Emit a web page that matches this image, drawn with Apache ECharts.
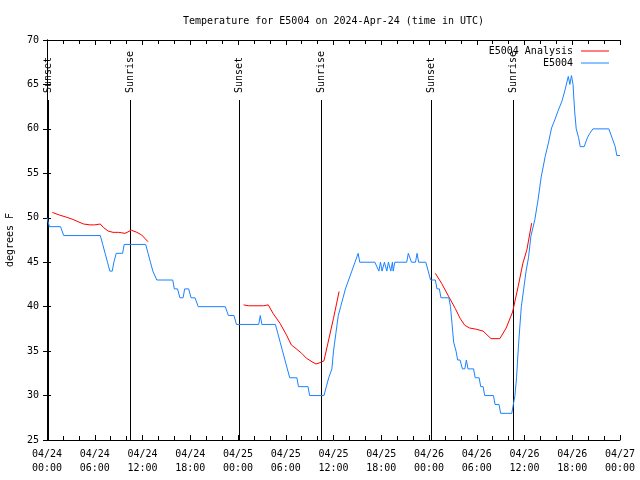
<!DOCTYPE html>
<html>
<head>
<meta charset="utf-8">
<script src="https://cdn.jsdelivr.net/npm/echarts@6/dist/echarts.min.js"></script>
<style>html,body{margin:0;padding:0;background:#fff;}#c{width:640px;height:480px;}</style>
</head>
<body>
<div id="c"></div>
<script>
// Hours since 2024-04-24 00:00 UTC
const xTickLabels = ['04/24\n00:00','04/24\n06:00','04/24\n12:00','04/24\n18:00','04/25\n00:00','04/25\n06:00','04/25\n12:00','04/25\n18:00','04/26\n00:00','04/26\n06:00','04/26\n12:00','04/26\n18:00','04/27\n00:00'];

const sunTimes = [0.1, 10.43, 24.13, 34.43, 48.25, 58.56];
const sunLabels = ['Sunset','Sunrise','Sunset','Sunrise','Sunset','Sunrise'];

const obsTime = [0.0,0.3,1.7,2.1,6.7,7.0,7.3,7.6,7.9,8.2,8.4,8.7,9.5,9.7,12.4,12.7,13.0,13.3,13.8,15.8,16.0,16.4,16.7,17.1,17.3,17.8,18.1,18.6,19.0,22.4,22.8,23.5,23.8,26.6,26.8,27.0,28.7,29.0,29.3,29.6,29.9,30.2,30.5,31.4,31.6,32.8,33.0,34.8,35.1,35.4,35.8,36.0,36.3,36.6,36.9,37.2,37.5,37.9,38.3,38.7,39.1,39.3,41.2,41.7,41.9,42.1,42.4,42.7,42.9,43.2,43.4,43.5,43.7,45.2,45.4,45.6,45.8,46.3,46.5,46.7,47.6,47.9,48.2,48.8,49.0,49.3,49.5,50.5,50.7,50.9,51.1,51.4,51.6,51.9,52.2,52.5,52.7,52.9,53.6,53.8,54.3,54.5,54.8,55.0,56.1,56.3,56.8,57.0,58.4,58.6,58.8,59.0,59.2,59.4,59.6,59.9,60.2,60.5,60.8,61.3,61.7,62.1,62.6,63.0,63.4,63.8,64.2,64.7,65.1,65.5,65.7,65.9,66.1,66.3,66.5,66.8,67.0,67.5,67.9,68.2,68.6,70.6,71.0,71.4,71.6,72.0];
const obsTemp = [50,49,49,48,48,47,46,45,44,44,45,46,46,47,47,46,45,44,43,43,42,42,41,41,42,42,41,41,40,40,39,39,38,38,39,38,38,37,36,35,34,33,32,32,31,31,30,30,31,32,33,35,37,39,40,41,42,43,44,45,46,45,45,44,45,44,45,44,45,44,45,44,45,45,46,46,45,45,46,45,45,44,43,43,42,42,41,41,40,38,36,35,34,34,33,33,34,33,33,32,32,31,31,30,30,29,29,28,28,29,30,32,35,37.6,40,42,44,45.5,47.9,49.8,52,54.6,56.9,58.4,60.1,61,62,63.1,64.4,65.9,65,66,65,62,60,59,58,58,59,59.5,60,60,59,58,57,57];

const anaTime1 = [0.67,1.6,2.5,3.3,3.9,4.6,5.4,6.0,6.7,7.1,7.7,8.3,9.0,9.8,10.6,11.3,11.9,12.7];
const anaTemp1 = [50.6,50.3,50.05,49.8,49.56,49.3,49.2,49.2,49.3,48.9,48.5,48.36,48.36,48.25,48.6,48.36,48.06,47.3];
const anaTime2 = [24.7,25.3,27.2,27.8,28.4,29.3,30.1,30.7,31.4,32.0,32.6,33.3,33.8,34.3,34.8,35.3,36.0,36.4,36.7];
const anaTemp2 = [40.2,40.1,40.1,40.2,39.25,38.1,36.8,35.7,35.2,34.75,34.2,33.8,33.55,33.7,33.9,35.9,38.7,40.4,41.7];
const anaTime3 = [48.8,49.6,50.5,51.3,51.9,52.5,53.1,54.0,54.8,55.8,56.9,57.7,58.5,59.2,59.8,60.3,60.9];
const anaTemp3 = [43.75,42.6,41.1,39.8,38.7,37.9,37.6,37.45,37.25,36.4,36.4,37.6,39.4,42.25,44.9,46.4,49.4];

function zip(a, b) { return a.map((v, i) => [v, b[i]]); }
const anaData = zip(anaTime1, anaTemp1).concat([[null, null]], zip(anaTime2, anaTemp2), [[null, null]], zip(anaTime3, anaTemp3));

const FONT = 'DejaVu Sans Mono';
const chart = echarts.init(document.getElementById('c'), null, {renderer: 'canvas'});

const xBase = {
  type: 'value', min: 0, max: 72, interval: 6,
  axisLine: {show: true, lineStyle: {color: '#000', width: 1}},
  axisTick: {show: true, inside: true, length: 5, lineStyle: {color: '#000'}},
  minorTick: {show: true, splitNumber: 3, length: 4, lineStyle: {color: '#000'}},
  splitLine: {show: false}
};
const yBase = {
  type: 'value', min: 25, max: 70, interval: 5,
  axisLine: {show: true, lineStyle: {color: '#000', width: 1}},
  axisTick: {show: true, inside: true, length: 4, lineStyle: {color: '#000'}},
  splitLine: {show: false}
};

chart.setOption({
  animation: false,
  backgroundColor: '#fff',
  title: {
    text: 'Temperature for E5004 on 2024-Apr-24 (time in UTC)',
    left: 178, top: 11,
    textStyle: {fontFamily: FONT, fontSize: 10, fontWeight: 'normal', color: '#000'}
  },
  legend: {
    data: ['E5004 Analysis', 'E5004'],
    orient: 'vertical', right: 26, top: 41, align: 'right',
    itemWidth: 28, itemHeight: 1, itemGap: 2, icon: 'rect',
    textStyle: {fontFamily: FONT, fontSize: 10, color: '#000', padding: [0, 3, 0, 0]}
  },
  grid: {left: 47, right: 20, top: 40, bottom: 40, outerBoundsMode: 'none'},
  xAxis: [
    Object.assign({}, xBase, {
      position: 'bottom',
      axisLabel: {
        fontFamily: FONT, fontSize: 10, color: '#000', lineHeight: 14, margin: 7,
        formatter: v => xTickLabels[Math.round(v / 6)]
      }
    }),
    Object.assign({}, xBase, {position: 'top', axisLabel: {show: false}})
  ],
  yAxis: [
    Object.assign({}, yBase, {
      position: 'left',
      name: 'degrees F', nameLocation: 'middle', nameGap: 32,
      nameTextStyle: {fontFamily: FONT, fontSize: 10, color: '#000'},
      axisLabel: {fontFamily: FONT, fontSize: 10, color: '#000', margin: 8}
    }),
    Object.assign({}, yBase, {position: 'right', axisLabel: {show: false}})
  ],
  series: [
    {
      type: 'custom', name: 'sun', xAxisIndex: 0, yAxisIndex: 0, silent: true,
      data: sunTimes.map(t => [t]),
      renderItem: function (params, api) {
        const t = api.value(0);
        const top = api.coord([t, 70]);
        const bot = api.coord([t, 25]);
        const x = Math.round(top[0]) + 0.5;
        return {
          type: 'group',
          children: [
            {type: 'line', shape: {x1: x, y1: bot[1], x2: x, y2: top[1] + 60},
             style: {stroke: '#000', lineWidth: 1}},
            {type: 'text', x: x, y: top[1] + 53, rotation: Math.PI / 2,
             style: {text: sunLabels[params.dataIndex], align: 'left', verticalAlign: 'middle',
                     font: '10px ' + FONT, fill: '#000'}}
          ]
        };
      }
    },
    {
      name: 'E5004 Analysis', type: 'line', data: anaData, showSymbol: false,
      connectNulls: false, lineStyle: {color: '#ff0000', width: 1}, itemStyle: {color: '#ff0000'}
    },
    {
      name: 'E5004', type: 'line', data: zip(obsTime, obsTemp), showSymbol: false,
      lineStyle: {color: '#1a82ff', width: 1}, itemStyle: {color: '#1a82ff'}
    }
  ]
});
</script>
</body>
</html>
